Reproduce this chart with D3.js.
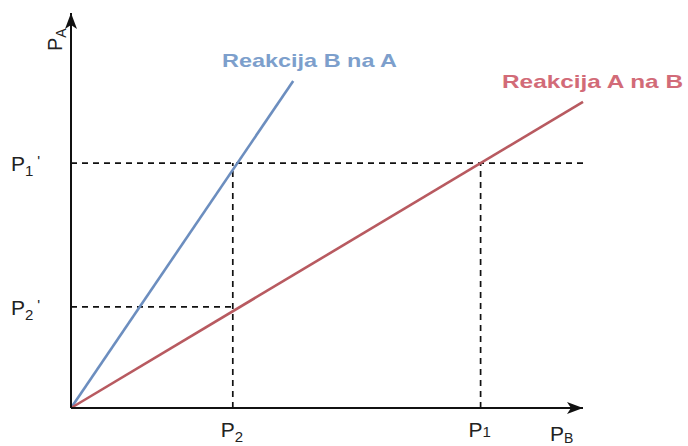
<!DOCTYPE html>
<html><head><meta charset="utf-8">
<script src="https://cdn.jsdelivr.net/npm/d3@7"></script>
<style>body{margin:0;background:#fff}svg{display:block}</style>
</head><body>
<script>
// Data (arbitrary units)
const xMarks = [{main:"P", sub:"2", value:3.16}, {main:"P", sub:"1", value:8.0}];
const yMarks = [{main:"P", sub:"2", prime:"'", value:2.56}, {main:"P", sub:"1", prime:"'", value:6.2}];
const lineBonA = [[0,0],[4.34,8.28]];
const lineAonB = [[0,0],[10,7.75]];
const seriesNames = ["Reakcija B na A", "Reakcija A na B"];
const axisNames = [{main:"P", sub:"B"}, {main:"P", sub:"A"}];

const W = 688, H = 446;
const svg = d3.select("body").append("svg").attr("width", W).attr("height", H)
  .style("font-family", "Liberation Sans, Arial, sans-serif");

const x = d3.scaleLinear([0, 10], [71, 583]);
const y = d3.scaleLinear([0, 10], [408, 13]);

const defs = svg.append("defs");
defs.append("marker").attr("id","arr").attr("viewBox","0 0 16 12")
  .attr("refX",16).attr("refY",6).attr("markerWidth",16).attr("markerHeight",12)
  .attr("markerUnits","userSpaceOnUse").attr("orient","auto")
  .append("path").attr("d","M0,0 L16,6 L0,12 L4,6 Z").attr("fill","#111");

// dashed guides
const dash = svg.append("g").attr("stroke","#111").attr("stroke-width",1.7)
  .attr("stroke-dasharray","6,5").attr("fill","none");
dash.append("line").attr("x1",x(0)).attr("x2",x(10)).attr("y1",y(yMarks[1].value)).attr("y2",y(yMarks[1].value));
dash.append("line").attr("x1",x(0)).attr("x2",x(xMarks[0].value)).attr("y1",y(yMarks[0].value)).attr("y2",y(yMarks[0].value));
xMarks.forEach(m => {
  dash.append("line").attr("x1",x(m.value)).attr("x2",x(m.value)).attr("y1",y(0)).attr("y2",y(yMarks[1].value));
});

// reaction lines
const line = d3.line().x(d => x(d[0])).y(d => y(d[1]));
svg.append("path").datum(lineBonA).attr("d", line).attr("fill","none")
  .attr("stroke","#6c8ebf").attr("stroke-width",2.6);
svg.append("path").datum(lineAonB).attr("d", line).attr("fill","none")
  .attr("stroke","#b85a60").attr("stroke-width",2.6);

// axes
svg.append("line").attr("x1",x(0)).attr("y1",y(0)).attr("x2",x(0)).attr("y2",y(10))
  .attr("stroke","#111").attr("stroke-width",2).attr("marker-end","url(#arr)");
svg.append("line").attr("x1",x(0)).attr("y1",y(0)).attr("x2",x(10)).attr("y2",y(0))
  .attr("stroke","#111").attr("stroke-width",2).attr("marker-end","url(#arr)");

const txtColor = "#222";
xMarks.forEach(m => {
  const t = svg.append("text").attr("x", x(m.value) - 12).attr("y", 437)
    .attr("fill", txtColor).attr("font-size", 21);
  t.append("tspan").text(m.main);
  t.append("tspan").attr("font-size", 15).attr("dy", m.sub === "2" ? 5 : 0).text(m.sub);
});
yMarks.forEach(m => {
  const t = svg.append("text").attr("x", 11).attr("y", y(m.value) + 8)
    .attr("fill", txtColor).attr("font-size", 21);
  t.append("tspan").text(m.main);
  t.append("tspan").attr("font-size", 15).attr("dy", 5).text(m.sub);
  t.append("tspan").attr("font-size", 15).attr("dy", -10).attr("dx", 4).text(m.prime);
});
const tb = svg.append("text").attr("x", 550).attr("y", 441).attr("fill", txtColor).attr("font-size", 21);
tb.append("tspan").text(axisNames[0].main);
tb.append("tspan").attr("font-size", 14).attr("dy", 2).text(axisNames[0].sub);
const ta = svg.append("text").attr("transform","translate(62,51) rotate(-90)").attr("fill", txtColor).attr("font-size", 20);
ta.append("tspan").text(axisNames[1].main);
ta.append("tspan").attr("font-size", 14).attr("dy", 4).text(axisNames[1].sub);

svg.append("text").attr("x", 222).attr("y", 67).attr("fill","#7d9fcc")
  .attr("font-size", 19).attr("font-weight","bold")
  .attr("textLength", 175).attr("lengthAdjust","spacingAndGlyphs").text(seriesNames[0]);
svg.append("text").attr("x", 502).attr("y", 88).attr("fill","#d26b78")
  .attr("font-size", 19).attr("font-weight","bold")
  .attr("textLength", 181).attr("lengthAdjust","spacingAndGlyphs").text(seriesNames[1]);
</script>
</body></html>
